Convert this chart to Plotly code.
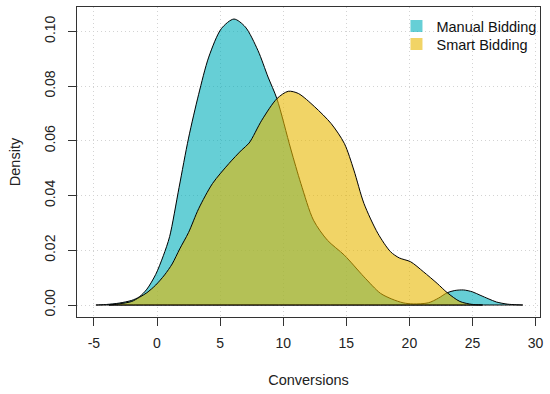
import plotly.graph_objects as go

# Manual Bidding density (x, density)
manual_x = [-4.84, -4.0, -3.0, -2.0, -1.4, -0.8, -0.1, 0.5, 1.0, 1.75, 2.5, 3.3, 4.1, 5.1,
            6.1, 7.0, 8.0, 8.8, 9.5, 10.6, 11.4, 12.4, 13.5, 14.85, 16.4, 17.7, 18.6, 19.5,
            20.3, 21.5, 22.3, 23.0, 23.6, 24.3, 25.0, 25.6, 26.3, 26.9, 27.8, 28.99]
manual_y = [0.0, 0.0002, 0.0007, 0.0017, 0.003, 0.0058, 0.0112, 0.018, 0.025, 0.043, 0.061,
            0.077, 0.0906, 0.101, 0.1045, 0.1016, 0.093, 0.0833, 0.0754, 0.057, 0.0444, 0.031,
            0.0237, 0.0182, 0.0103, 0.0043, 0.0022, 0.0008, 0.0004, 0.0008, 0.0025, 0.0045,
            0.0053, 0.0055, 0.0048, 0.0036, 0.0022, 0.0011, 0.0003, 0.0]

# Smart Bidding density (x, density)
smart_x = [-3.8, -3.0, -2.0, -1.4, -0.8, -0.1, 0.6, 1.2, 1.8, 2.5, 3.3, 4.4, 5.7, 6.7, 7.3,
           8.3, 9.5, 10.4, 11.2, 12.5, 13.8, 14.85, 15.6, 16.4, 17.5, 18.5, 19.2, 20.1, 21.1,
           22.2, 23.0, 24.0, 25.0, 25.8]
smart_y = [0.0, 0.0004, 0.0013, 0.0028, 0.0045, 0.0073, 0.011, 0.015, 0.0205, 0.0265, 0.0352,
           0.0444, 0.0517, 0.0566, 0.0592, 0.0675, 0.0754, 0.0781, 0.0773, 0.0724, 0.0663,
           0.059, 0.0493, 0.0371, 0.0262, 0.0195, 0.0172, 0.0158, 0.0122, 0.0079, 0.0045,
           0.0013, 0.0002, 0.0]

series = [
    ("Manual Bidding", manual_x, manual_y, "rgba(0,175,187,0.6)", "legend", 0.99),
    ("Smart Bidding", smart_x, smart_y, "rgba(231,184,0,0.6)", "legend2", 0.932),
]

x_ticks = [-5, 0, 5, 10, 15, 20, 25, 30]
y_ticks = [0.0, 0.02, 0.04, 0.06, 0.08, 0.10]

FONT = "Liberation Sans, Arial, sans-serif"

fig = go.Figure()
for name, xs, ys, col, lg, ly in series:
    px = list(xs) + [xs[-1], xs[0], xs[0]]
    py = list(ys) + [0, 0, ys[0]]
    fig.add_trace(go.Scatter(
        x=px, y=py, mode="lines", fill="toself", fillcolor=col,
        line=dict(color="black", width=1, shape="spline", smoothing=0.8),
        showlegend=False, hoverinfo="skip"))

legend_cfg = {}
for name, xs, ys, col, lg, ly in series:
    fig.add_trace(go.Scatter(
        x=[None], y=[None], mode="markers", name=name, legend=lg,
        marker=dict(symbol="square", size=12, color=col, line=dict(width=0))))
    legend_cfg[lg] = dict(x=0.690, y=ly, xanchor="left", yanchor="top",
                          bgcolor="rgba(0,0,0,0)", borderwidth=0,
                          font=dict(family=FONT, size=14.5, color="#111111"),
                          itemsizing="constant")

axis_common = dict(
    showline=True, mirror=True, linecolor="#333333", linewidth=1,
    ticks="outside", ticklen=8, tickcolor="#333333", tickwidth=1,
    showgrid=True, gridcolor="#D3D3D3", griddash="1px,3px", gridwidth=1,
    zeroline=False, tickfont=dict(family=FONT, size=14, color="#222222"),
)

fig.update_xaxes(range=[-6.34, 30.35], tickvals=x_ticks, ticktext=[str(v) for v in x_ticks],
                 ticklabelstandoff=5,
                 title=dict(text="Conversions", font=dict(family=FONT, size=14.5, color="#222222"),
                            standoff=25),
                 **axis_common)
fig.update_yaxes(range=[-0.00438, 0.1089], tickvals=y_ticks,
                 ticktext=[f"{v:.2f}" for v in y_ticks], tickangle=-90,
                 ticklabelstandoff=7,
                 title=dict(text="Density", font=dict(family=FONT, size=14.5, color="#222222"),
                            standoff=18),
                 **axis_common)

fig.update_layout(
    width=550, height=394,
    margin=dict(l=77, r=6, t=7, b=77),
    paper_bgcolor="white", plot_bgcolor="white",
    font=dict(family=FONT, size=14, color="#222222"),
    **legend_cfg,
)

fig.write_html("out.html")
